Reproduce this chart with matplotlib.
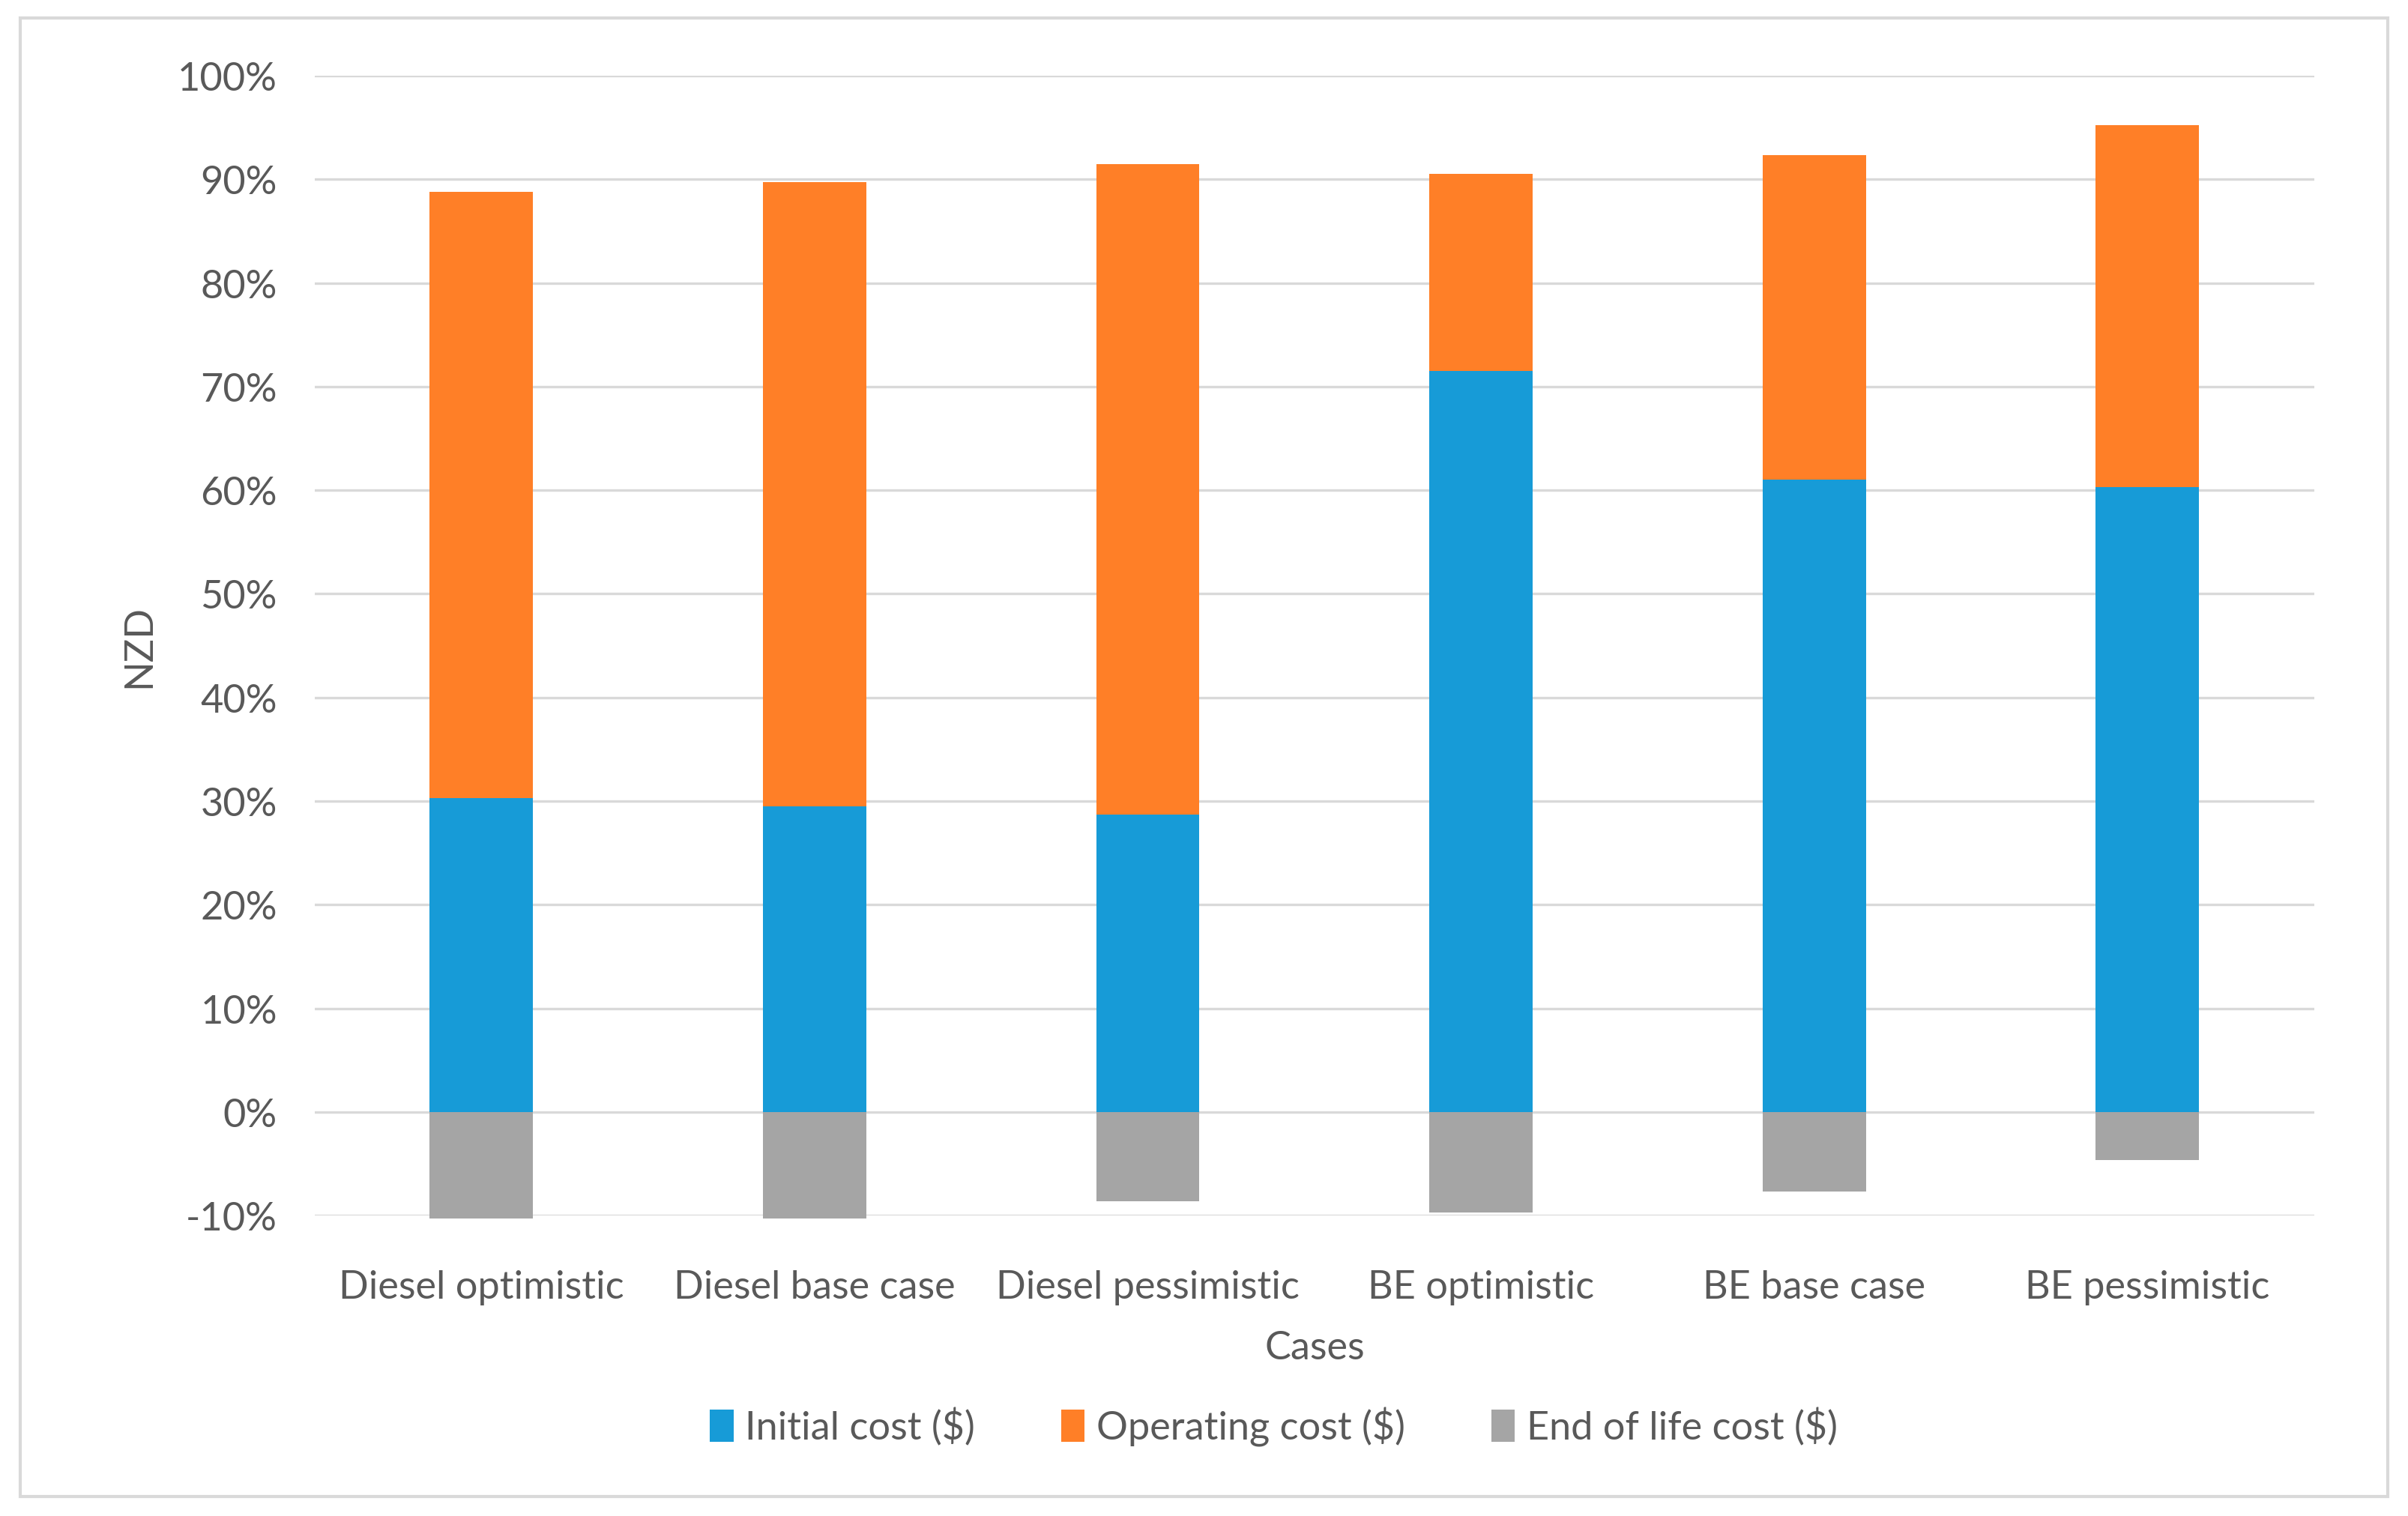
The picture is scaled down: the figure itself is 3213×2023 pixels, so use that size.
import matplotlib
matplotlib.use("Agg")
import matplotlib.pyplot as plt
import numpy as np
from matplotlib.ticker import PercentFormatter
from matplotlib.patches import Rectangle

# Data (shares of total)
cases = ["Diesel optimistic", "Diesel base case", "Diesel pessimistic",
         "BE optimistic", "BE base case", "BE pessimistic"]
initial_cost = [0.303, 0.295, 0.287, 0.715, 0.610, 0.603]
operating_cost = [0.585, 0.602, 0.628, 0.190, 0.313, 0.349]
end_of_life_cost = [-0.103, -0.103, -0.086, -0.097, -0.077, -0.0465]

plt.rcParams['font.family'] = ['Lato', 'DejaVu Sans']
plt.rcParams['axes.unicode_minus'] = False

text_col = "#595959"
grid_col = "#D9D9D9"
fs = 18.8

fig = plt.figure(figsize=(16.065, 10.12), dpi=200)
ax = fig.add_axes([0.1307, 0.198, 0.961 - 0.1307, 0.9496 - 0.198])

x = np.arange(len(cases))
w = 0.31

ax.bar(x, initial_cost, w, color="#179BD7", label="Initial cost ($)", zorder=3)
ax.bar(x, operating_cost, w, bottom=initial_cost, color="#FF7F27",
       label="Operating cost ($)", zorder=3)
ax.bar(x, end_of_life_cost, w, color="#A5A5A5",
       label="End of life cost ($)", zorder=3, clip_on=False)

ax.set_xlim(-0.5, len(cases) - 0.5)
ax.set_ylim(-0.1, 1.0)
ax.set_yticks(np.arange(-0.1, 1.01, 0.1))
ax.yaxis.set_major_formatter(PercentFormatter(1.0, decimals=0))
ax.set_xticks(x)
ax.set_xticklabels(cases)

ax.grid(axis='y', color=grid_col, linewidth=1.2, zorder=0)
for s in ax.spines.values():
    s.set_visible(False)
ax.tick_params(axis='both', length=0, labelsize=fs, colors=text_col)
ax.tick_params(axis='y', pad=18)
ax.tick_params(axis='x', pad=26)

ax.set_xlabel("Cases", fontsize=fs, color=text_col, labelpad=12)
ax.set_ylabel("NZD", fontsize=fs, color=text_col, labelpad=10)

leg = fig.legend(loc='center', bbox_to_anchor=(0.529, 0.059), ncol=3,
                 frameon=False, fontsize=fs, handlelength=0.6,
                 handleheight=0.9, handletextpad=0.3, columnspacing=2.2)
for t in leg.get_texts():
    t.set_color(text_col)

# outer chart border
fig.patches.append(Rectangle((27 / 3213, 1 - 1998 / 2024),
                             (3186 - 27) / 3213, (1998 - 25) / 2024,
                             transform=fig.transFigure, fill=False,
                             edgecolor=grid_col, linewidth=1.5))

fig.savefig("out.png", dpi=200, facecolor="white")
